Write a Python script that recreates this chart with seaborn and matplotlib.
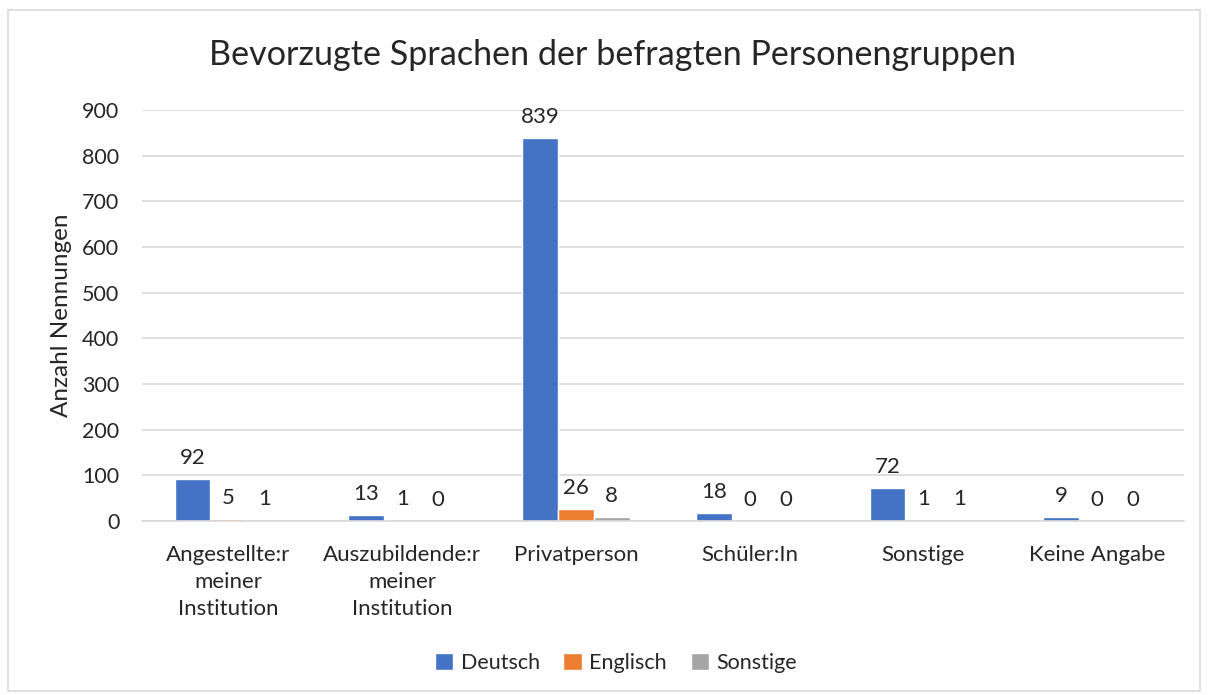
import matplotlib
matplotlib.use("Agg")
import matplotlib.pyplot as plt
import seaborn as sns
import pandas as pd
from matplotlib.patches import Rectangle

categories = ["Angestellte:r\nmeiner\nInstitution", "Auszubildende:r\nmeiner\nInstitution",
              "Privatperson", "Schüler:In", "Sonstige", "Keine Angabe"]
series_names = ["Deutsch", "Englisch", "Sonstige"]
deutsch = [92, 13, 839, 18, 72, 9]
englisch = [5, 1, 26, 0, 1, 0]
sonstige = [1, 0, 8, 0, 1, 0]
yticks = [0, 100, 200, 300, 400, 500, 600, 700, 800, 900]
colors = ["#4472C4", "#ED7D31", "#A5A5A5"]

rows = []
for name, vals in zip(series_names, [deutsch, englisch, sonstige]):
    for c, v in zip(categories, vals):
        rows.append({"Kategorie": c, "Sprache": name, "Wert": v})
df = pd.DataFrame(rows)

sns.set_theme(style="white")
plt.rcParams['font.family'] = ['Lato', 'DejaVu Sans']

fig = plt.figure(figsize=(12.1, 6.95), dpi=100)
ax = fig.add_axes([0.117, 0.2504, 0.8615, 0.5913])

sns.barplot(data=df, x="Kategorie", y="Wert", hue="Sprache", order=categories,
            hue_order=series_names, palette=colors, width=0.62, saturation=1,
            ax=ax, errorbar=None, legend=True)

for cont in ax.containers:
    ax.bar_label(cont, fmt="%d", padding=8, fontsize=16, color="#262626")

ax.set_ylim(0, 900)
ax.set_yticks(yticks)
ax.yaxis.grid(True, color="#d9d9d9", linewidth=1.2)
ax.set_axisbelow(True)
for s in ["top", "right", "left"]:
    ax.spines[s].set_visible(False)
ax.spines["bottom"].set_color("#d9d9d9")
ax.spines["bottom"].set_linewidth(1.2)
ax.tick_params(axis="y", length=0, labelsize=15.5, colors="#262626", pad=16)
ax.tick_params(axis="x", length=0, labelsize=16, colors="#262626", pad=17)
ax.set_xlabel("")
ax.set_ylabel("Anzahl Nennungen", fontsize=17.5, color="#262626", labelpad=7)
for lab in ax.get_xticklabels():
    lab.set_linespacing(1.45)

fig.text(0.506, 0.921, "Bevorzugte Sprachen der befragten Personengruppen",
         ha="center", va="center", fontsize=24.6, color="#262626")

leg = ax.legend(loc="center", bbox_to_anchor=(0.509, 0.046), bbox_transform=fig.transFigure,
                ncol=3, frameon=False, fontsize=15.5, handlelength=0.85, handleheight=0.85,
                handletextpad=0.35, columnspacing=1.1)
for t in leg.get_texts():
    t.set_color("#262626")

fig.patches.append(Rectangle((0.007, 0.006), 0.985, 0.98, transform=fig.transFigure,
                             fill=False, edgecolor="#d9d9d9", linewidth=1.2))

fig.savefig("out.png", dpi=100)
